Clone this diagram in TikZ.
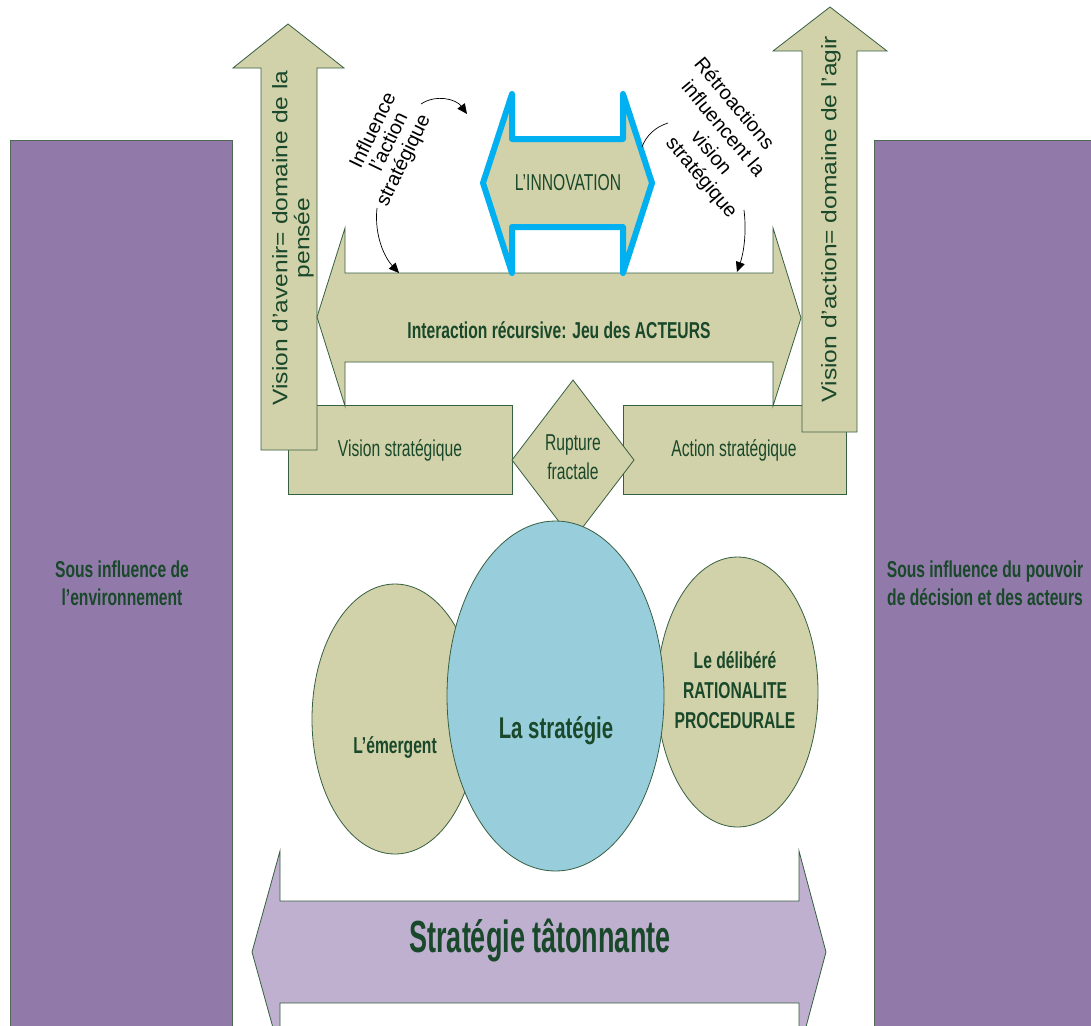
\documentclass[tikz,border=0pt]{standalone}
\usepackage{fontspec}
\setmainfont{Liberation Sans}
\newfontfamily\nar[FakeStretch=0.68]{Liberation Sans}
\newfontfamily\narx[FakeStretch=0.6]{Liberation Sans}
\newfontfamily\wid[FakeStretch=1.17]{Liberation Sans}
\usetikzlibrary{arrows.meta}
\definecolor{khaki}{RGB}{210,210,170}
\definecolor{tgreen}{RGB}{25,72,42}
\definecolor{edge}{RGB}{55,95,65}
\definecolor{purp}{RGB}{145,122,170}
\definecolor{lpurp}{RGB}{191,176,208}
\definecolor{cblue}{RGB}{152,206,220}
\definecolor{cyanb}{RGB}{0,176,240}
\tikzset{
  shp/.style={draw=edge,line width=0.8pt,fill=khaki,line join=miter},
  purprect/.style={draw=edge!70!gray,line width=0.8pt,fill=purp},
  txt/.style={text=tgreen,inner sep=0pt,align=center},
  nreg/.style={txt,font=\nar\fontsize{23}{25}\selectfont},
  nbold/.style={txt,font=\nar\bfseries\fontsize{23}{28}\selectfont},
  wreg/.style={txt,font=\wid\fontsize{21}{22}\selectfont},
  blk/.style={inner sep=0pt,text=black,font=\fontsize{20}{24}\selectfont},
  carrow/.style={draw=black,line width=0.7pt,-{Triangle[length=10pt,width=9pt]}},
  cline/.style={draw=black,line width=0.7pt}
}
\begin{document}
\begin{tikzpicture}[x=1pt,y=-1pt]
\clip (0,0) rectangle (1091,1025);
\fill[white] (0,0) rectangle (1091,1025);
% side columns
\draw[purprect] (10,140) rectangle (232,1035);
\draw[purprect] (874,140) rectangle (1100,1035);
% boxes
\draw[shp] (288,405) rectangle (512,494);
\draw[shp] (623,405) rectangle (846,494);
% up arrows
\draw[shp] (261,450) -- (261,68) -- (233,68) -- (288,24) -- (344,68) -- (317,68) -- (317,450) -- cycle;
\draw[shp] (802,432) -- (802,51) -- (773,51) -- (830,7) -- (887,51) -- (857,51) -- (857,432) -- cycle;
% interaction double arrow
\draw[shp] (317,317) -- (345,228) -- (345,273) -- (773,273) -- (773,228) -- (801,318) -- (773,406) -- (773,362) -- (345,362) -- (345,406) -- cycle;
% innovation double arrow
\draw[fill=khaki,draw=cyanb,line width=6pt,line join=round] (483,183) -- (512,94) -- (512,139) -- (623,139) -- (623,94) -- (652,183) -- (623,273) -- (623,227) -- (512,227) -- (512,273) -- cycle;
% diamond
\draw[shp] (573,380) -- (634,460) -- (573,540) -- (512,460) -- cycle;
% ellipses
\draw[shp] (395,719) ellipse [x radius=83, y radius=135];
\draw[shp] (737.5,692) ellipse [x radius=80.5, y radius=135];
\draw[draw=edge,line width=0.8pt,fill=cblue] (555.5,696) ellipse [x radius=108.5, y radius=175];
% bottom arrow
\draw[draw=edge,line width=0.8pt,fill=lpurp] (252,952) -- (280,851) -- (280,901) -- (799,901) -- (799,851) -- (826,952) -- (799,1053) -- (799,1003) -- (280,1003) -- (280,1053) -- cycle;

% texts
\node[nbold] (envL) at (122,583) {Sous influence de\\l’environnement};
\node[nbold] (envR) at (985,583) {Sous influence du pouvoir\\de décision et des acteurs};
\node[wreg,rotate=90] (visAv) at (293,238) {Vision d’avenir= domaine de la\\pensée};
\node[wreg,rotate=90] (visAc) at (831,219) {Vision d’action= domaine de l’agir};
\node[nreg] (innov) at (568,183) {L’INNOVATION};
\node[nbold] (inter) at (559,330) {Interaction récursive: Jeu des ACTEURS};
\node[nreg] (vs) at (400,450) {Vision stratégique};
\node[nreg] (as) at (734,450) {Action stratégique};
\node[nreg,font=\nar\fontsize{23}{29}\selectfont] (rupt) at (573,457) {Rupture\\fractale};
\node[txt,font=\nar\bfseries\fontsize{30}{32}\selectfont] (strat) at (556,731) {La stratégie};
\node[nbold] (emerg) at (395,747) {L’émergent};
\node[txt,font=\nar\bfseries\fontsize{23}{30}\selectfont] (delib) at (735,690) {Le délibéré\\RATIONALITE\\PROCEDURALE};
\node[txt,font=\narx\bfseries\fontsize{45}{48}\selectfont] (taton) at (540,940) {Stratégie tâtonnante};
% rotated labels, line by line
\node[blk,rotate=64] (infl1) at (372,130) {Influence};
\node[blk,rotate=64] (infl2) at (388,141) {l’action};
\node[blk,rotate=64] (infl3) at (404,161) {stratégique};
\node[blk,rotate=-50] (retro1) at (735,103) {Rétroactions};
\node[blk,rotate=-50] (retro2) at (724,128) {influencent la};
\node[blk,rotate=-50] (retro3) at (712,152) {vision};
\node[blk,rotate=-50] (retro4) at (701,178) {stratégique};

% curved connectors
\coordinate (a1s) at (421,104); \coordinate (a1e) at (467,114);
\coordinate (a2s) at (377,208); \coordinate (a2e) at (399,273);
\coordinate (a3s) at (668,123); \coordinate (a3e) at (642,147);
\coordinate (a4s) at (744,210); \coordinate (a4e) at (737,272);
\draw[carrow] (a1s) .. controls (436,94) and (456,99) .. (a1e);
\draw[carrow] (a2s) .. controls (374,236) and (385,258) .. (a2e);
\draw[cline] (a3s) .. controls (655,127) and (646,136) .. (a3e);
\draw[carrow] (a4s) .. controls (747,235) and (743,255) .. (a4e);
\end{tikzpicture}
\end{document}
